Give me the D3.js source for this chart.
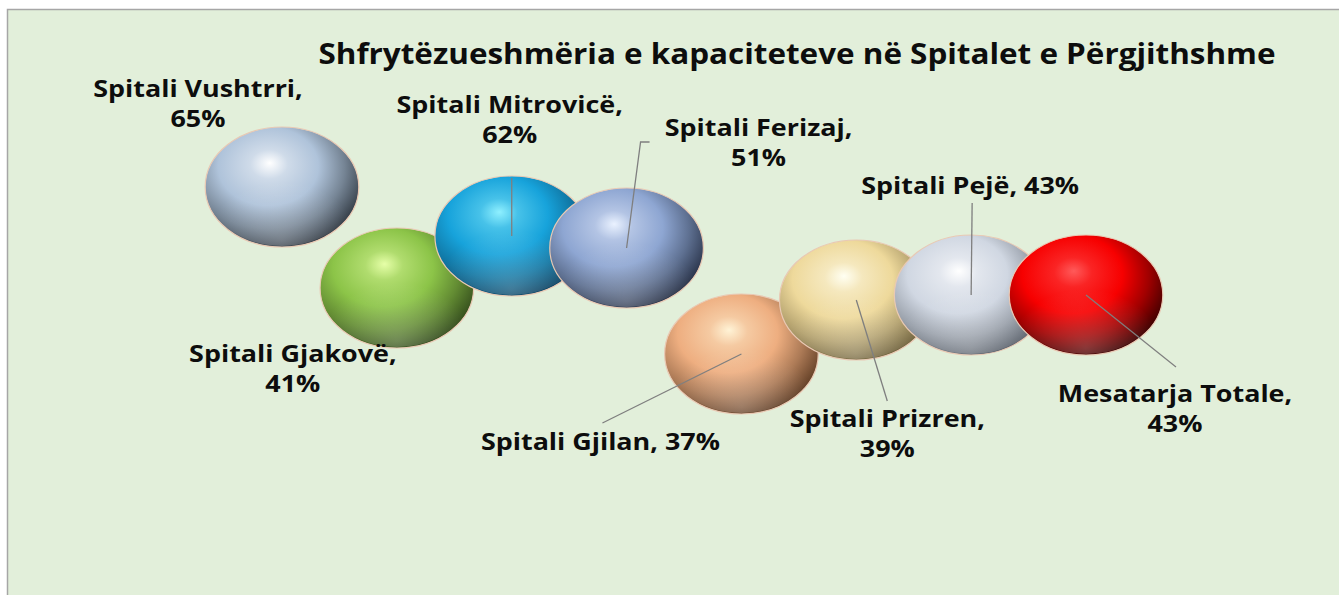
<!DOCTYPE html>
<meta charset="utf-8">
<style>
  body { margin: 0; background: #fff; }
  text { font-family: "Open Sans", sans-serif; font-weight: 700; fill: #0d0d0d; }
</style>
<script src="https://d3js.org/d3.v7.min.js"></script>

<svg id="chart" width="1339" height="595"></svg>

<script>

// hospitals (categories)
const names = ["Spitali Vushtrri", "Spitali Gjakovë", "Spitali Mitrovicë", "Spitali Ferizaj",
  "Spitali Gjilan", "Spitali Prizren", "Spitali Pejë", "Mesatarja Totale"];
// capacity use, %
const pct = [65, 41, 62, 51, 37, 39, 43, 43];
// vertical position value of each bubble (hidden axis)
const yValues = [70.6, 50.4, 60.8, 58.4, 37.2, 48, 49, 49];
// bubble size (all equal)
const sizes = [1, 1, 1, 1, 1, 1, 1, 1];

// sphere colours: highlight, base, shadow
const colors = [
  ["#ffffff", "#afc3da", "#2e363f"],
  ["#e6ffa8", "#8cc448", "#30481a"],
  ["#8ff0ff", "#17a3db", "#083c5c"],
  ["#eaf2ff", "#8ea6d2", "#242d42"],
  ["#fff3d6", "#eeae80", "#5c3a22"],
  ["#fffff2", "#eed99b", "#6a5c36"],
  ["#ffffff", "#d0d7e2", "#575e68"],
  ["#ff5a5a", "#f70000", "#350000"]
];

// label layout relative to bubble centre (pixels), leader line end points
const labelPos = [
  {dx: -84, dy: -90, two: true, line: null},
  {dx: -104, dy: 74, two: true, line: null},
  {dx: -2, dy: -123, two: true, line: [[0, -58], [0, 0]]},
  {dx: 132, dy: -112, two: true, line: [[23, -106], [14, -106], [0, 0]]},
  {dx: -141, dy: 96, two: false, line: [[-139, 69], [0, 0]]},
  {dx: 31, dy: 127, two: true, line: [[31, 101], [0, 0]]},
  {dx: -1, dy: -101, two: false, line: [[1, -92], [0, 0]]},
  {dx: 89, dy: 107, two: true, line: [[90, 72], [0, 0]]}
];

const svg = d3.select("#chart"),
  width = +svg.attr("width"),
  height = +svg.attr("height");

// the original picture is stretched horizontally
const sx = 1.28;
const tx = 1.17; // text stretch

// background + border
svg.append("rect")
  .attr("x", 7).attr("y", 9)
  .attr("width", width - 7).attr("height", height - 9)
  .attr("fill", "#e2efda");
svg.append("path")
  .attr("d", `M7.5,${height} V9.5 H${width}`)
  .attr("fill", "none")
  .attr("stroke", "#a6a6a6")
  .attr("stroke-width", 1.5);

const defs = svg.append("defs");
colors.forEach((c, i) => {
  const g = defs.append("radialGradient")
    .attr("id", "sph" + i)
    .attr("cx", "0.4").attr("cy", "0.36").attr("r", "0.68")
    .attr("fx", "0.42").attr("fy", "0.3");
  g.append("stop").attr("offset", "0").attr("stop-color", c[0]);
  g.append("stop").attr("offset", "0.18").attr("stop-color", d3.interpolateRgb(c[0], c[1])(0.6));
  g.append("stop").attr("offset", "0.48").attr("stop-color", c[1]);
  g.append("stop").attr("offset", "0.74").attr("stop-color", d3.interpolateRgb(c[1], c[2])(0.45));
  g.append("stop").attr("offset", "1").attr("stop-color", c[2]);
});
// soft bottom reflection
const refl = defs.append("radialGradient")
  .attr("id", "refl").attr("cx", "0.5").attr("cy", "0.95").attr("r", "0.5");
refl.append("stop").attr("offset", "0").attr("stop-color", "#fff").attr("stop-opacity", 0.22);
refl.append("stop").attr("offset", "1").attr("stop-color", "#fff").attr("stop-opacity", 0);

// scales (in unstretched units)
const x = d3.scaleLinear().domain([1, 8]).range([282 / sx, 1086 / sx]);
const y = d3.scaleLinear().domain([0, 100]).range([540, 40]);
const r = d3.scaleSqrt().domain([0, 1]).range([0, 60]);

const data = names.map((n, i) => ({name: n, pct: pct[i], y: yValues[i], size: sizes[i], i: i}));

const plot = svg.append("g").attr("transform", `scale(${sx},1)`);
const texts = svg.append("g").attr("transform", `scale(${tx},1)`);

// title
texts.append("text")
  .attr("x", 797 / tx).attr("y", 64)
  .attr("text-anchor", "middle")
  .attr("font-size", 28)
  .attr("textLength", 957 / tx)
  .attr("lengthAdjust", "spacingAndGlyphs")
  .text("Shfrytëzueshmëria e kapaciteteve në Spitalet e Përgjithshme");

// bubbles
const bub = plot.append("g").selectAll("g")
  .data(data)
  .join("g");

bub.append("circle")
  .attr("cx", d => x(d.i + 1))
  .attr("cy", d => y(d.y))
  .attr("r", d => r(d.size))
  .attr("fill", d => `url(#sph${d.i})`)
  .attr("stroke", "#e9c9b4")
  .attr("stroke-width", 1.2)
  .attr("vector-effect", "non-scaling-stroke");

bub.append("circle")
  .attr("cx", d => x(d.i + 1))
  .attr("cy", d => y(d.y))
  .attr("r", d => r(d.size) - 1)
  .attr("fill", "url(#refl)");

// leader lines
const line = d3.line();
plot.append("g").selectAll("path")
  .data(data.filter(d => labelPos[d.i].line))
  .join("path")
  .attr("d", d => line(labelPos[d.i].line.map(p => [x(d.i + 1) + p[0] / sx, y(d.y) + p[1]])))
  .attr("fill", "none")
  .attr("stroke", "#7f7f7f")
  .attr("stroke-width", 1.3)
  .attr("vector-effect", "non-scaling-stroke");

// data labels
const lab = texts.append("g").selectAll("text")
  .data(data)
  .join("text")
  .attr("text-anchor", "middle")
  .attr("font-size", 23)
  .attr("x", d => (x(d.i + 1) * sx + labelPos[d.i].dx) / tx)
  .attr("y", d => y(d.y) + labelPos[d.i].dy);

lab.each(function(d) {
  const t = d3.select(this), p = labelPos[d.i];
  if (p.two) {
    t.append("tspan").attr("x", t.attr("x")).text(d.name + ",");
    t.append("tspan").attr("x", t.attr("x")).attr("dy", 30).text(d.pct + "%");
  } else {
    t.text(d.name + ", " + d.pct + "%");
  }
});

</script>
